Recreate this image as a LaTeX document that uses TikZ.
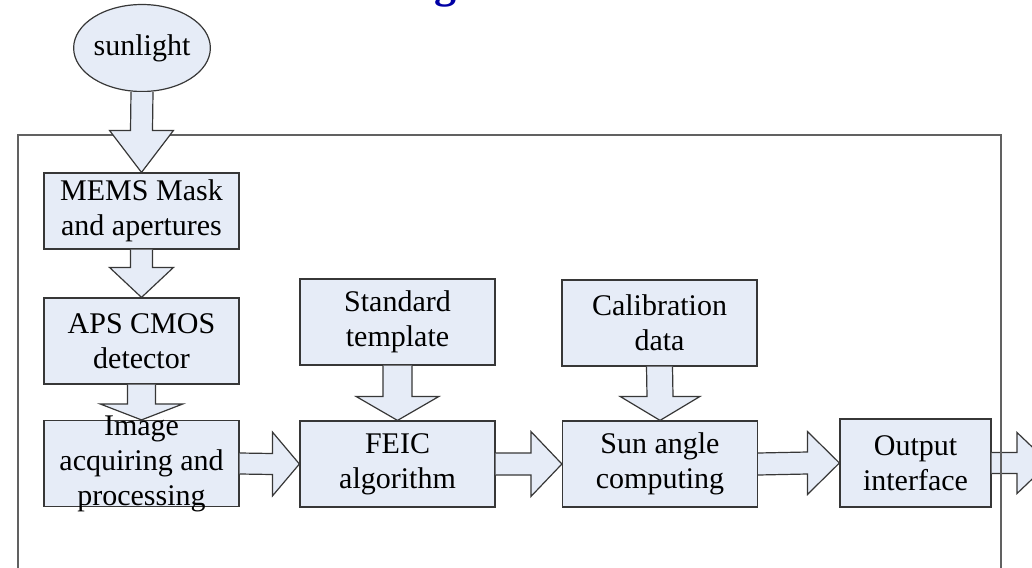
\documentclass[tikz,border=0pt]{standalone}
\usepackage{fontspec}
\setmainfont{Liberation Serif}
\usetikzlibrary{calc,shapes.geometric}
\definecolor{boxfill}{RGB}{230,236,247}
\definecolor{boxline}{RGB}{55,55,55}
\definecolor{titleblue}{RGB}{0,0,165}
\tikzset{
  block/.style={draw=boxline,fill=boxfill,line width=0.6pt,minimum width=97.5pt,minimum height=43pt,
    inner sep=0pt,align=center,font=\fontsize{15}{17.5}\selectfont},
  fatarrow/.style={draw=boxline,fill=boxfill,line width=0.6pt,line join=miter},
  frameline/.style={draw=black!62,line width=0.75pt}
}
% #1 from, #2 to, #3 half shaft, #4 half head, #5 head length
\newcommand{\downblock}[5]{\draw[fatarrow] ($#1+(-#3,0)$) -- ($#2+(-#3,-#5)$) -- ($#2+(-#4,-#5)$) -- #2
  -- ($#2+(#4,-#5)$) -- ($#2+(#3,-#5)$) -- ($#1+(#3,0)$);}
\newcommand{\rightblock}[5]{\draw[fatarrow] ($#1+(0,-#3)$) -- ($#2+(-#5,-#3)$) -- ($#2+(-#5,-#4)$) -- #2
  -- ($#2+(-#5,#4)$) -- ($#2+(-#5,#3)$) -- ($#1+(0,#3)$);}
\begin{document}
\begin{tikzpicture}[x=0.5pt,y=-0.5pt]
\useasboundingbox (0,0) rectangle (1032,567);
\node[anchor=base,text=titleblue,font=\fontsize{22}{26}\selectfont\bfseries] (titlefrag) at (445,-2) {g};
\node[block,ellipse,minimum width=67pt,minimum height=43.5pt] (sunlight) at (142,48) {sunlight};
\node[block,minimum height=38pt] (mems) at (141.5,211) {MEMS Mask\\and apertures};
\node[block] (aps) at (141.5,341) {APS CMOS\\detector};
\node[block] (image) at (141.5,463.5) {};
\node[block] (template) at (397.5,322) {Standard\\template};
\node[block] (feic) at (397.5,464) {FEIC\\algorithm};
\node[block] (calib) at (659.5,323) {Calibration\\data};
\node[block] (angle) at (660,464) {Sun angle\\computing};
\node[block,minimum width=75.5pt,minimum height=44pt] (output) at (915.5,463) {Output\\interface};
\coordinate (exit) at (1049,463);

\downblock{(mems.south)}{(aps.north)}{11}{32}{30}
\downblock{(aps.south)}{(image.north)}{14}{41.5}{16}
\downblock{(template.south)}{(feic.north)}{14.5}{41.5}{24}
\downblock{(calib.south)}{(angle.north)}{13}{40}{24}
\rightblock{(image.east)}{(feic.west)}{10.5}{32}{27}
\rightblock{(feic.east)}{(angle.west)}{11}{32.5}{31}
\rightblock{(angle.east)}{(output.west)}{11}{31.5}{32}
\rightblock{(output.east)}{(exit)}{10.5}{30.5}{32}

\draw[frameline] (18,600) |- (1001,135) -- (1001,600);
\downblock{(sunlight.south)}{(mems.north)}{11}{32}{42}

\node[font=\fontsize{15}{17.5}\selectfont,align=center] (imagetext) at (image.center) {Image\\acquiring and\\processing};
\end{tikzpicture}
\end{document}
